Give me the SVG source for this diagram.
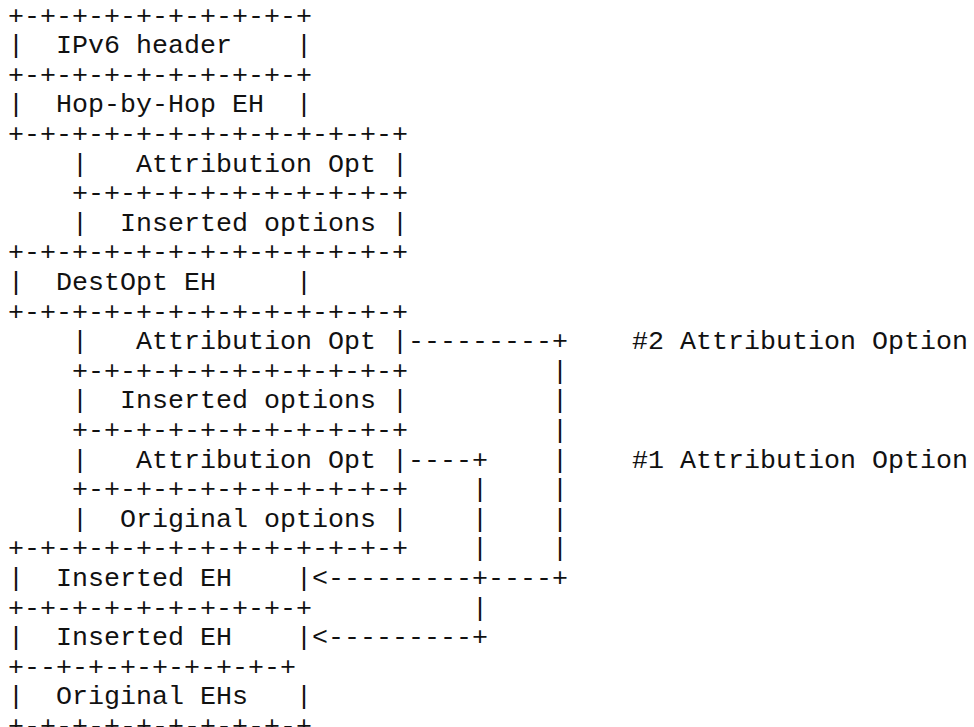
<svg xmlns="http://www.w3.org/2000/svg" width="974" height="727" viewBox="0 0 974 727">
  <style>
    /* monospace grid: one column = 16px, one row = 29.6px */
    text { font-family: "Liberation Mono", "Courier New", monospace; font-size: 26.67px; fill: #111; white-space: pre; }
  </style>
  <rect width="974" height="727" fill="#fff"/>

  <!-- outer header stack -->
  <g id="ipv6-header">
    <text x="8" y="23.5" xml:space="preserve">+-+-+-+-+-+-+-+-+-+</text>
    <text x="8" y="53.1" xml:space="preserve">|  IPv6 header    |</text>
  </g>
  <g id="hop-by-hop-eh">
    <text x="8" y="82.7" xml:space="preserve">+-+-+-+-+-+-+-+-+-+</text>
    <text x="8" y="112.3" xml:space="preserve">|  Hop-by-Hop EH  |</text>
  </g>
  <g id="hbh-attribution-opt">
    <text x="8" y="141.9" xml:space="preserve">+-+-+-+-+-+-+-+-+-+-+-+-+</text>
    <text x="8" y="171.5" xml:space="preserve">    |   Attribution Opt |</text>
  </g>
  <g id="hbh-inserted-options">
    <text x="8" y="201.1" xml:space="preserve">    +-+-+-+-+-+-+-+-+-+-+</text>
    <text x="8" y="230.7" xml:space="preserve">    |  Inserted options |</text>
  </g>
  <g id="destopt-eh">
    <text x="8" y="260.3" xml:space="preserve">+-+-+-+-+-+-+-+-+-+-+-+-+</text>
    <text x="8" y="289.9" xml:space="preserve">|  DestOpt EH     |</text>
  </g>
  <g id="destopt-attribution-opt-2">
    <text x="8" y="319.5" xml:space="preserve">+-+-+-+-+-+-+-+-+-+-+-+-+</text>
    <text x="8" y="349.1" xml:space="preserve">    |   Attribution Opt |</text>
  </g>
  <g id="destopt-inserted-options">
    <text x="8" y="378.7" xml:space="preserve">    +-+-+-+-+-+-+-+-+-+-+</text>
    <text x="8" y="408.3" xml:space="preserve">    |  Inserted options |</text>
  </g>
  <g id="destopt-attribution-opt-1">
    <text x="8" y="437.9" xml:space="preserve">    +-+-+-+-+-+-+-+-+-+-+</text>
    <text x="8" y="467.5" xml:space="preserve">    |   Attribution Opt |</text>
  </g>
  <g id="destopt-original-options">
    <text x="8" y="497.1" xml:space="preserve">    +-+-+-+-+-+-+-+-+-+-+</text>
    <text x="8" y="526.7" xml:space="preserve">    |  Original options |</text>
  </g>
  <g id="inserted-eh-1">
    <text x="8" y="556.3" xml:space="preserve">+-+-+-+-+-+-+-+-+-+-+-+-+</text>
    <text x="8" y="585.9" xml:space="preserve">|  Inserted EH    |</text>
  </g>
  <g id="inserted-eh-2">
    <text x="8" y="615.5" xml:space="preserve">+-+-+-+-+-+-+-+-+-+</text>
    <text x="8" y="645.1" xml:space="preserve">|  Inserted EH    |</text>
  </g>
  <g id="original-ehs">
    <text x="8" y="674.7" xml:space="preserve">+--+-+-+-+-+-+-+-+</text>
    <text x="8" y="704.3" xml:space="preserve">|  Original EHs   |</text>
    <text x="8" y="733.9" xml:space="preserve">+-+-+-+-+-+-+-+-+-+</text>
  </g>

  <!-- option-to-header links (column 29 = #1, column 34 = #2) -->
  <g id="connectors">
    <text x="408" y="349.1">---------+</text>
    <text x="552" y="378.7">|</text>
    <text x="552" y="408.3">|</text>
    <text x="552" y="437.9">|</text>
    <text x="408" y="467.5">----+</text>
    <text x="552" y="467.5">|</text>
    <text x="472" y="497.1">|</text>
    <text x="552" y="497.1">|</text>
    <text x="472" y="526.7">|</text>
    <text x="552" y="526.7">|</text>
    <text x="472" y="556.3">|</text>
    <text x="552" y="556.3">|</text>
    <text x="312" y="585.9">&lt;---------+----+</text>
    <text x="472" y="615.5">|</text>
    <text x="312" y="645.1">&lt;---------+</text>
  </g>

  <g id="notes">
    <text x="632" y="349.1">#2 Attribution Option</text>
    <text x="632" y="467.5">#1 Attribution Option</text>
  </g>
</svg>
